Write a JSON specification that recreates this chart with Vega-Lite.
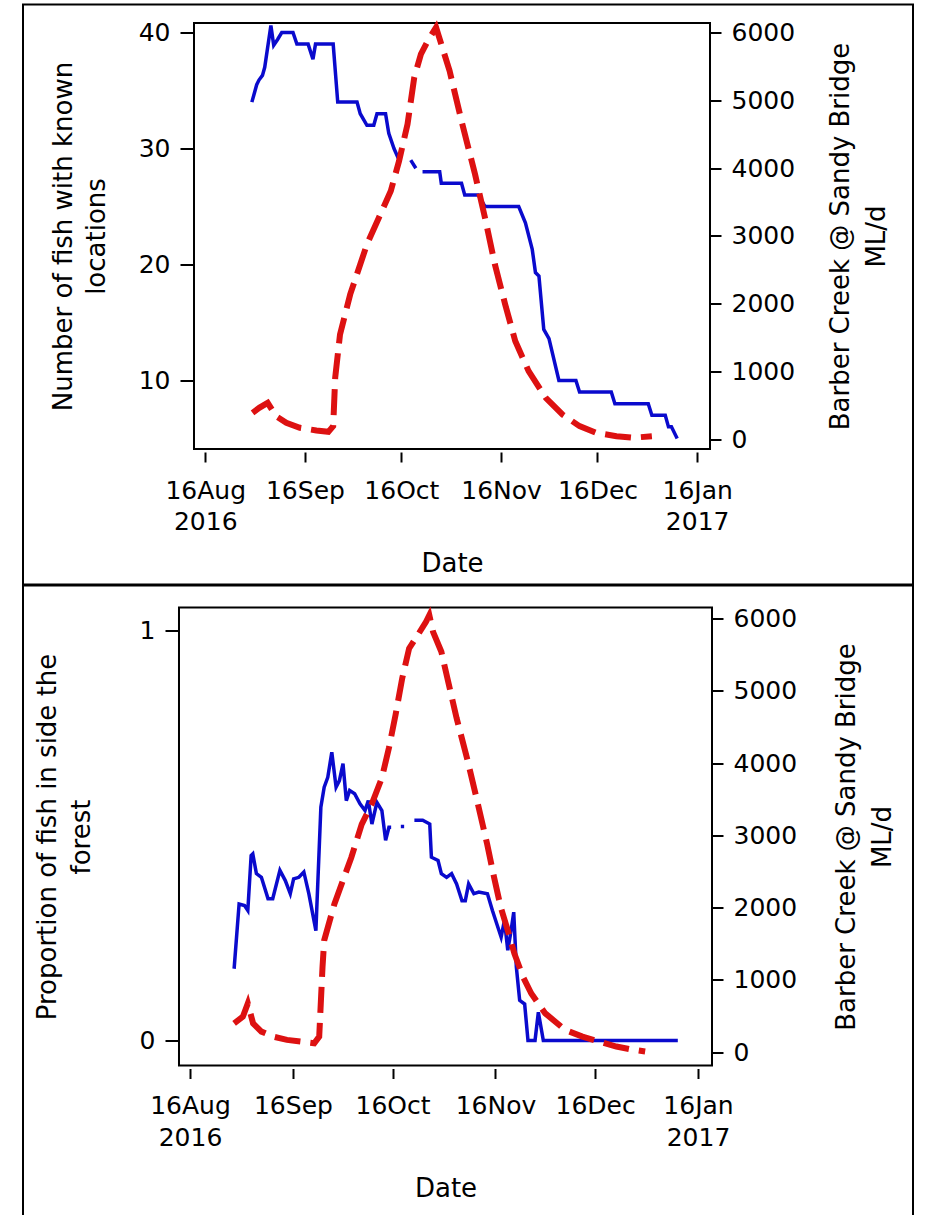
{
  "$schema": "https://vega.github.io/schema/vega-lite/v6.json",
  "background": "white",
  "padding": {"left": 22, "top": 3.5, "right": 0, "bottom": 0},
  "config": {
    "font": "DejaVu Sans",
    "view": {"stroke": "black", "strokeWidth": 2},
    "axis": {
      "labelFont": "DejaVu Sans", "labelFontSize": 25, "labelColor": "#000",
      "titleFont": "DejaVu Sans", "titleFontSize": 26, "titleFontWeight": "normal", "titleColor": "#000",
      "tickColor": "#000", "tickWidth": 2, "domain": false, "grid": false,
      "labelOverlap": false, "labelFlush": false, "labelBound": false
    }
  },
  "datasets": {
    "fish_top": [
      {"date": "2016-08-30T12:00", "count": 34},
      {"date": "2016-09-01T00:00", "count": 35.5},
      {"date": "2016-09-01T17:00", "count": 35.9},
      {"date": "2016-09-02T19:00", "count": 36.3},
      {"date": "2016-09-03T12:00", "count": 37},
      {"date": "2016-09-05T10:00", "count": 40.6},
      {"date": "2016-09-06T07:00", "count": 38.9},
      {"date": "2016-09-07T12:00", "count": 39.4},
      {"date": "2016-09-08T19:00", "count": 40},
      {"date": "2016-09-12T07:00", "count": 40},
      {"date": "2016-09-13T12:00", "count": 39},
      {"date": "2016-09-17T00:00", "count": 39},
      {"date": "2016-09-18T12:00", "count": 37.7},
      {"date": "2016-09-19T07:00", "count": 39},
      {"date": "2016-09-24T19:00", "count": 39},
      {"date": "2016-09-26T05:00", "count": 34},
      {"date": "2016-10-02T05:00", "count": 34},
      {"date": "2016-10-03T05:00", "count": 33},
      {"date": "2016-10-05T07:00", "count": 32},
      {"date": "2016-10-07T10:00", "count": 32},
      {"date": "2016-10-08T10:00", "count": 33},
      {"date": "2016-10-11T02:00", "count": 33},
      {"date": "2016-10-12T02:00", "count": 31.3},
      {"date": "2016-10-13T17:00", "count": 30},
      {"date": "2016-10-15T07:00", "count": 29},
      {"date": "2016-10-17T00:00", "count": null},
      {"date": "2016-10-18T22:00", "count": 29},
      {"date": "2016-10-20T12:00", "count": 28.3},
      {"date": "2016-10-21T12:00", "count": null},
      {"date": "2016-10-22T14:00", "count": 28},
      {"date": "2016-10-27T22:00", "count": 28},
      {"date": "2016-10-28T10:00", "count": 27},
      {"date": "2016-11-03T17:00", "count": 27},
      {"date": "2016-11-04T17:00", "count": 26},
      {"date": "2016-11-08T22:00", "count": 26},
      {"date": "2016-11-11T00:00", "count": 25},
      {"date": "2016-11-21T12:00", "count": 25},
      {"date": "2016-11-23T14:00", "count": 23.6},
      {"date": "2016-11-25T17:00", "count": 21.3},
      {"date": "2016-11-26T17:00", "count": 19.3},
      {"date": "2016-11-27T19:00", "count": 19},
      {"date": "2016-11-29T07:00", "count": 14.4},
      {"date": "2016-11-30T22:00", "count": 13.6},
      {"date": "2016-12-04T00:00", "count": 10},
      {"date": "2016-12-09T07:00", "count": 10},
      {"date": "2016-12-10T10:00", "count": 9},
      {"date": "2016-12-20T07:00", "count": 9},
      {"date": "2016-12-21T10:00", "count": 8},
      {"date": "2016-12-31T19:00", "count": 8},
      {"date": "2017-01-01T22:00", "count": 7},
      {"date": "2017-01-06T02:00", "count": 7},
      {"date": "2017-01-07T02:00", "count": 6},
      {"date": "2017-01-08T00:00", "count": 6},
      {"date": "2017-01-09T19:00", "count": 5}
    ],
    "flow_top": [
      {"date": "2016-08-30T17:00", "flow": 393},
      {"date": "2016-09-01T19:00", "flow": 467},
      {"date": "2016-09-04T10:00", "flow": 541},
      {"date": "2016-09-07T00:00", "flow": 344},
      {"date": "2016-09-10T05:00", "flow": 246},
      {"date": "2016-09-14T10:00", "flow": 172},
      {"date": "2016-09-19T14:00", "flow": 133},
      {"date": "2016-09-23T07:00", "flow": 113},
      {"date": "2016-09-24T19:00", "flow": 197},
      {"date": "2016-09-25T10:00", "flow": 910},
      {"date": "2016-09-26T22:00", "flow": 1549},
      {"date": "2016-09-30T02:00", "flow": 2139},
      {"date": "2016-10-05T07:00", "flow": 2877},
      {"date": "2016-10-09T00:00", "flow": 3270},
      {"date": "2016-10-12T17:00", "flow": 3664},
      {"date": "2016-10-15T07:00", "flow": 4107},
      {"date": "2016-10-17T22:00", "flow": 4648},
      {"date": "2016-10-20T00:00", "flow": 5336},
      {"date": "2016-10-22T02:00", "flow": 5680},
      {"date": "2016-10-24T05:00", "flow": 5877},
      {"date": "2016-10-26T19:00", "flow": 6074},
      {"date": "2016-10-28T10:00", "flow": 5828},
      {"date": "2016-10-31T00:00", "flow": 5434},
      {"date": "2016-11-03T17:00", "flow": 4697},
      {"date": "2016-11-07T22:00", "flow": 3910},
      {"date": "2016-11-11T00:00", "flow": 3270},
      {"date": "2016-11-14T02:00", "flow": 2582},
      {"date": "2016-11-17T07:00", "flow": 1992},
      {"date": "2016-11-20T10:00", "flow": 1451},
      {"date": "2016-11-24T14:00", "flow": 1008},
      {"date": "2016-11-29T22:00", "flow": 615},
      {"date": "2016-12-05T02:00", "flow": 369},
      {"date": "2016-12-10T10:00", "flow": 197},
      {"date": "2016-12-15T14:00", "flow": 98},
      {"date": "2016-12-21T22:00", "flow": 49},
      {"date": "2016-12-27T02:00", "flow": 25},
      {"date": "2017-01-01T22:00", "flow": 49}
    ],
    "prop_bottom": [
      {"date": "2016-08-29T07:00", "prop": 0.175},
      {"date": "2016-08-30T19:00", "prop": 0.333},
      {"date": "2016-09-01T10:00", "prop": 0.329},
      {"date": "2016-09-02T10:00", "prop": 0.317},
      {"date": "2016-09-03T10:00", "prop": 0.451},
      {"date": "2016-09-03T22:00", "prop": 0.455},
      {"date": "2016-09-05T00:00", "prop": 0.407},
      {"date": "2016-09-06T12:00", "prop": 0.398},
      {"date": "2016-09-08T12:00", "prop": 0.346},
      {"date": "2016-09-09T22:00", "prop": 0.346},
      {"date": "2016-09-12T02:00", "prop": 0.415},
      {"date": "2016-09-13T17:00", "prop": 0.390},
      {"date": "2016-09-15T05:00", "prop": 0.358},
      {"date": "2016-09-16T05:00", "prop": 0.394},
      {"date": "2016-09-17T19:00", "prop": 0.398},
      {"date": "2016-09-19T07:00", "prop": 0.411},
      {"date": "2016-09-20T19:00", "prop": 0.358},
      {"date": "2016-09-22T22:00", "prop": 0.268},
      {"date": "2016-09-24T10:00", "prop": 0.569},
      {"date": "2016-09-25T10:00", "prop": 0.618},
      {"date": "2016-09-26T12:00", "prop": 0.642},
      {"date": "2016-09-27T17:00", "prop": 0.703},
      {"date": "2016-09-29T00:00", "prop": 0.618},
      {"date": "2016-09-30T00:00", "prop": 0.634},
      {"date": "2016-10-01T02:00", "prop": 0.675},
      {"date": "2016-10-02T02:00", "prop": 0.585},
      {"date": "2016-10-03T02:00", "prop": 0.610},
      {"date": "2016-10-04T14:00", "prop": 0.602},
      {"date": "2016-10-06T05:00", "prop": 0.577},
      {"date": "2016-10-07T17:00", "prop": 0.561},
      {"date": "2016-10-08T17:00", "prop": 0.585},
      {"date": "2016-10-09T19:00", "prop": 0.528},
      {"date": "2016-10-11T07:00", "prop": 0.581},
      {"date": "2016-10-12T19:00", "prop": 0.561},
      {"date": "2016-10-13T22:00", "prop": 0.488},
      {"date": "2016-10-14T22:00", "prop": 0.520},
      {"date": "2016-10-15T14:00", "prop": 0.520},
      {"date": "2016-10-17T00:00", "prop": null},
      {"date": "2016-10-18T12:00", "prop": 0.522},
      {"date": "2016-10-19T12:00", "prop": 0.522},
      {"date": "2016-10-21T00:00", "prop": null},
      {"date": "2016-10-22T14:00", "prop": 0.537},
      {"date": "2016-10-25T02:00", "prop": 0.537},
      {"date": "2016-10-27T05:00", "prop": 0.528},
      {"date": "2016-10-27T17:00", "prop": 0.447},
      {"date": "2016-10-29T17:00", "prop": 0.439},
      {"date": "2016-10-30T17:00", "prop": 0.407},
      {"date": "2016-11-01T07:00", "prop": 0.398},
      {"date": "2016-11-02T19:00", "prop": 0.407},
      {"date": "2016-11-04T07:00", "prop": 0.382},
      {"date": "2016-11-05T22:00", "prop": 0.341},
      {"date": "2016-11-06T22:00", "prop": 0.341},
      {"date": "2016-11-07T22:00", "prop": 0.382},
      {"date": "2016-11-09T12:00", "prop": 0.358},
      {"date": "2016-11-11T00:00", "prop": 0.362},
      {"date": "2016-11-13T14:00", "prop": 0.358},
      {"date": "2016-11-15T02:00", "prop": 0.317},
      {"date": "2016-11-16T14:00", "prop": 0.280},
      {"date": "2016-11-17T17:00", "prop": 0.252},
      {"date": "2016-11-18T17:00", "prop": 0.293},
      {"date": "2016-11-19T17:00", "prop": 0.220},
      {"date": "2016-11-20T17:00", "prop": 0.268},
      {"date": "2016-11-21T12:00", "prop": 0.313},
      {"date": "2016-11-22T07:00", "prop": 0.179},
      {"date": "2016-11-23T07:00", "prop": 0.098},
      {"date": "2016-11-24T19:00", "prop": 0.089},
      {"date": "2016-11-25T19:00", "prop": 0},
      {"date": "2016-11-27T22:00", "prop": 0},
      {"date": "2016-11-28T22:00", "prop": 0.069},
      {"date": "2016-11-30T10:00", "prop": 0},
      {"date": "2017-01-09T22:00", "prop": 0}
    ],
    "flow_bottom": [
      {"date": "2016-08-29T07:00", "flow": 399},
      {"date": "2016-08-31T22:00", "flow": 491},
      {"date": "2016-09-02T10:00", "flow": 675},
      {"date": "2016-09-04T00:00", "flow": 399},
      {"date": "2016-09-06T12:00", "flow": 285},
      {"date": "2016-09-10T02:00", "flow": 216},
      {"date": "2016-09-14T05:00", "flow": 170},
      {"date": "2016-09-18T07:00", "flow": 147},
      {"date": "2016-09-22T10:00", "flow": 124},
      {"date": "2016-09-23T22:00", "flow": 216},
      {"date": "2016-09-24T22:00", "flow": 1180},
      {"date": "2016-09-25T10:00", "flow": 1547},
      {"date": "2016-09-28T12:00", "flow": 2052},
      {"date": "2016-10-03T14:00", "flow": 2694},
      {"date": "2016-10-06T17:00", "flow": 3153},
      {"date": "2016-10-09T17:00", "flow": 3429},
      {"date": "2016-10-12T19:00", "flow": 3796},
      {"date": "2016-10-14T22:00", "flow": 4209},
      {"date": "2016-10-16T22:00", "flow": 4668},
      {"date": "2016-10-18T22:00", "flow": 5173},
      {"date": "2016-10-21T00:00", "flow": 5586},
      {"date": "2016-10-23T14:00", "flow": 5770},
      {"date": "2016-10-26T02:00", "flow": 5953},
      {"date": "2016-10-27T02:00", "flow": 6045},
      {"date": "2016-10-28T05:00", "flow": 5816},
      {"date": "2016-10-30T17:00", "flow": 5540},
      {"date": "2016-11-01T07:00", "flow": 5219},
      {"date": "2016-11-04T07:00", "flow": 4622},
      {"date": "2016-11-07T10:00", "flow": 4071},
      {"date": "2016-11-10T12:00", "flow": 3475},
      {"date": "2016-11-13T12:00", "flow": 2878},
      {"date": "2016-11-15T14:00", "flow": 2419},
      {"date": "2016-11-17T14:00", "flow": 2006},
      {"date": "2016-11-19T17:00", "flow": 1685},
      {"date": "2016-11-21T17:00", "flow": 1363},
      {"date": "2016-11-24T07:00", "flow": 1042},
      {"date": "2016-11-26T19:00", "flow": 812},
      {"date": "2016-12-01T00:00", "flow": 537},
      {"date": "2016-12-07T00:00", "flow": 308},
      {"date": "2016-12-12T05:00", "flow": 216},
      {"date": "2016-12-17T07:00", "flow": 147},
      {"date": "2016-12-22T10:00", "flow": 78},
      {"date": "2016-12-26T12:00", "flow": 41},
      {"date": "2016-12-31T02:00", "flow": 9}
    ]
  },
  "spacing": -2,
  "resolve": {"scale": {"x": "independent", "y": "independent"}},
  "vconcat": [
    {
      "width": 890,
      "height": 580,
      "resolve": {"scale": {"y": "independent"}},
      "layer": [
        {
          "data": {"values": [{}]},
          "mark": {"type": "rect", "filled": false, "color": "black", "strokeWidth": 2},
          "encoding": {
            "x": {"datum": {"year": 2016, "month": 8, "date": 12, "hours": 12}, "type": "temporal",
                  "scale": {"domain": [{"year": 2016, "month": 6, "date": 20, "hours": 7, "minutes": 30}, {"year": 2017, "month": 3, "date": 24, "hours": 3, "minutes": 20}]}},
            "x2": {"datum": {"year": 2017, "month": 1, "date": 20}},
            "y": {"datum": 40.82, "type": "quantitative", "scale": {"domain": [-7.593, 42.415]}, "axis": null},
            "y2": {"datum": 4.09}
          }
        },
        {
          "data": {"name": "fish_top"},
          "mark": {"type": "line", "color": "#0a0acd", "strokeWidth": 3.5, "invalid": "break-paths-show-domains"},
          "encoding": {
            "x": {"field": "date", "type": "temporal",
                  "scale": {"domain": [{"year": 2016, "month": 6, "date": 20, "hours": 7, "minutes": 30}, {"year": 2017, "month": 3, "date": 24, "hours": 3, "minutes": 20}]},
                  "axis": {
                    "title": "Date", "titleX": 429,
                    "values": [{"year": 2016, "month": 8, "date": 16}, {"year": 2016, "month": 9, "date": 16}, {"year": 2016, "month": 10, "date": 16}, {"year": 2016, "month": 11, "date": 16}, {"year": 2016, "month": 12, "date": 16}, {"year": 2017, "month": 1, "date": 16}],
                    "labelExpr": "(month(datum.value) == 7 || month(datum.value) == 0) ? [timeFormat(datum.value, '%d%b'), timeFormat(datum.value, '%Y')] : timeFormat(datum.value, '%d%b')",
                    "labelAngle": 0, "offset": -132.5, "tickSize": 10, "labelPadding": 16, "labelLineHeight": 31, "titlePadding": 16
                  }},
            "y": {"field": "count", "type": "quantitative", "scale": {"domain": [-7.593, 42.415]},
                  "axis": {"orient": "left", "offset": -171, "values": [10, 20, 30, 40], "title": ["Number of fish with known", "locations"], "titleY": 231.5,
                           "tickSize": 14, "labelPadding": 10, "titlePadding": 29, "titleLineHeight": 33}}
          }
        },
        {
          "data": {"name": "flow_top"},
          "mark": {"type": "line", "color": "#dd1111", "strokeWidth": 6, "strokeDash": [26, 10]},
          "encoding": {
            "x": {"field": "date", "type": "temporal",
                  "scale": {"domain": [{"year": 2016, "month": 6, "date": 20, "hours": 7, "minutes": 30}, {"year": 2017, "month": 3, "date": 24, "hours": 3, "minutes": 20}]}},
            "y": {"field": "flow", "type": "quantitative", "scale": {"domain": [-2137.5, 6412.7]},
                  "axis": {"orient": "right", "offset": -203, "values": [0, 1000, 2000, 3000, 4000, 5000, 6000], "format": "d",
                           "title": ["Barber Creek @ Sandy Bridge", "ML/d"], "titleAngle": 270, "titleBaseline": "top", "titleY": 231.5,
                           "tickSize": 11, "labelPadding": 10, "titlePadding": -3, "titleLineHeight": 36}}
          }
        }
      ]
    },
    {
      "width": 890,
      "height": 632,
      "resolve": {"scale": {"y": "independent"}},
      "layer": [
        {
          "data": {"values": [{}]},
          "mark": {"type": "rect", "filled": false, "color": "black", "strokeWidth": 2},
          "encoding": {
            "x": {"datum": {"year": 2016, "month": 8, "date": 12, "hours": 16, "minutes": 30}, "type": "temporal",
                  "scale": {"domain": [{"year": 2016, "month": 6, "date": 26, "hours": 17}, {"year": 2017, "month": 3, "date": 21, "hours": 18}]}},
            "x2": {"datum": {"year": 2017, "month": 1, "date": 20, "hours": 5, "minutes": 10}},
            "y": {"datum": 1.056, "type": "quantitative", "scale": {"domain": [-0.4317, 1.1097]}, "axis": null},
            "y2": {"datum": -0.061}
          }
        },
        {
          "data": {"name": "prop_bottom"},
          "mark": {"type": "line", "color": "#0a0acd", "strokeWidth": 3.5, "invalid": "break-paths-show-domains"},
          "encoding": {
            "x": {"field": "date", "type": "temporal",
                  "scale": {"domain": [{"year": 2016, "month": 6, "date": 26, "hours": 17}, {"year": 2017, "month": 3, "date": 21, "hours": 18}]},
                  "axis": {
                    "title": "Date", "titleX": 422.5,
                    "values": [{"year": 2016, "month": 8, "date": 16}, {"year": 2016, "month": 9, "date": 16}, {"year": 2016, "month": 10, "date": 16}, {"year": 2016, "month": 11, "date": 16}, {"year": 2016, "month": 12, "date": 16}, {"year": 2017, "month": 1, "date": 16}],
                    "labelExpr": "(month(datum.value) == 7 || month(datum.value) == 0) ? [timeFormat(datum.value, '%d%b'), timeFormat(datum.value, '%Y')] : timeFormat(datum.value, '%d%b')",
                    "labelAngle": 0, "offset": -149, "tickSize": 10, "labelPadding": 15, "labelLineHeight": 32, "titlePadding": 25
                  }},
            "y": {"field": "prop", "type": "quantitative", "scale": {"domain": [-0.4317, 1.1097]},
                  "axis": {"orient": "left", "offset": -156, "values": [0, 1], "format": "d", "title": ["Proportion of fish in side the", "forest"], "titleY": 251,
                           "tickSize": 14, "labelPadding": 10, "titlePadding": 45, "titleLineHeight": 34}}
          }
        },
        {
          "data": {"name": "flow_bottom"},
          "mark": {"type": "line", "color": "#dd1111", "strokeWidth": 6, "strokeDash": [26, 10]},
          "encoding": {
            "x": {"field": "date", "type": "temporal",
                  "scale": {"domain": [{"year": 2016, "month": 6, "date": 26, "hours": 17}, {"year": 2017, "month": 3, "date": 21, "hours": 18}]}},
            "y": {"field": "flow", "type": "quantitative", "scale": {"domain": [-2286.8, 6456.4]},
                  "axis": {"orient": "right", "offset": -201, "values": [0, 1000, 2000, 3000, 4000, 5000, 6000], "format": "d",
                           "title": ["Barber Creek @ Sandy Bridge", "ML/d"], "titleAngle": 270, "titleBaseline": "top", "titleY": 251,
                           "tickSize": 11, "labelPadding": 10, "titlePadding": 1, "titleLineHeight": 36}}
          }
        }
      ]
    }
  ]
}
